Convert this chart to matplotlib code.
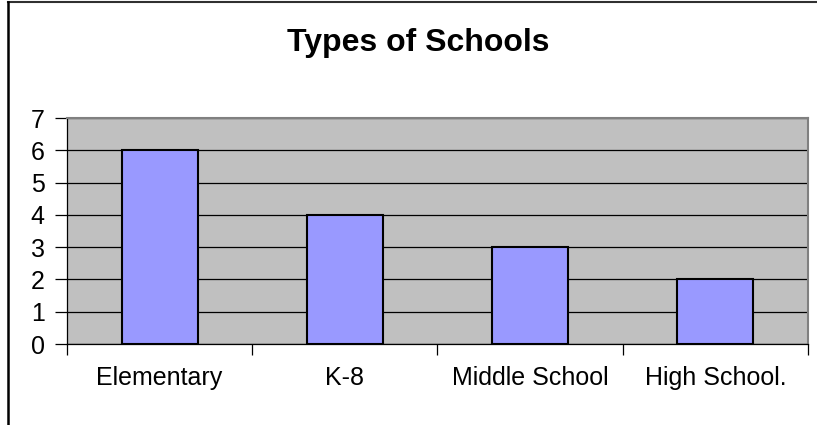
import matplotlib.pyplot as plt
from matplotlib.lines import Line2D
import numpy as np

# Data
categories = ["Elementary", "K-8", "Middle School", "High School."]
counts = [6, 4, 3, 2]
y_ticks = [0, 1, 2, 3, 4, 5, 6, 7]

plt.rcParams['font.family'] = ['Liberation Sans', 'DejaVu Sans']

W, H = 817, 425
fig = plt.figure(figsize=(W / 100, H / 100), dpi=100)
fig.patch.set_facecolor('white')

# plot area in pixels: left 67, right 808, top 118, bottom 344
ax = fig.add_axes([67 / W, (H - 344) / H, (808 - 67) / W, (344 - 118) / H])
ax.set_facecolor('#C0C0C0')

x = np.arange(len(categories))
ax.bar(x, counts, width=0.41, color='#9999FF', edgecolor='black',
       linewidth=1.5, zorder=3)

ax.set_xlim(-0.5, len(categories) - 0.5)
ax.set_ylim(0, 7)
ax.set_yticks(y_ticks)
ax.yaxis.grid(True, color='black', linewidth=0.9, zorder=1)
ax.set_axisbelow(True)

# category labels centred, ticks on category boundaries
ax.set_xticks(x)
ax.set_xticklabels(categories)
ax.set_xticks(np.arange(-0.5, len(categories), 1.0), minor=True)
ax.tick_params(axis='x', which='major', length=0, pad=16, labelsize=18)
ax.tick_params(axis='x', which='minor', length=8, width=0.9, color='black')
ax.tick_params(axis='y', length=9, width=0.9, pad=7, labelsize=18)

for side in ['top', 'right']:
    ax.spines[side].set_color('#808080')
    ax.spines[side].set_linewidth(1.5)
for side in ['left', 'bottom']:
    ax.spines[side].set_color('black')
    ax.spines[side].set_linewidth(0.9)

fig.text(418 / W, 1 - 43 / H, "Types of Schools", ha='center', va='center',
         fontsize=23, fontweight='bold')

# chart frame (top and left edges visible)
fig.add_artist(Line2D([8 / W, 1], [1 - 2 / H, 1 - 2 / H], color='#303030',
                      linewidth=1.5, transform=fig.transFigure))
fig.add_artist(Line2D([8 / W, 8 / W], [0, 1 - 2 / H], color='black',
                      linewidth=1.8, transform=fig.transFigure))

fig.savefig('out.png', dpi=100)
